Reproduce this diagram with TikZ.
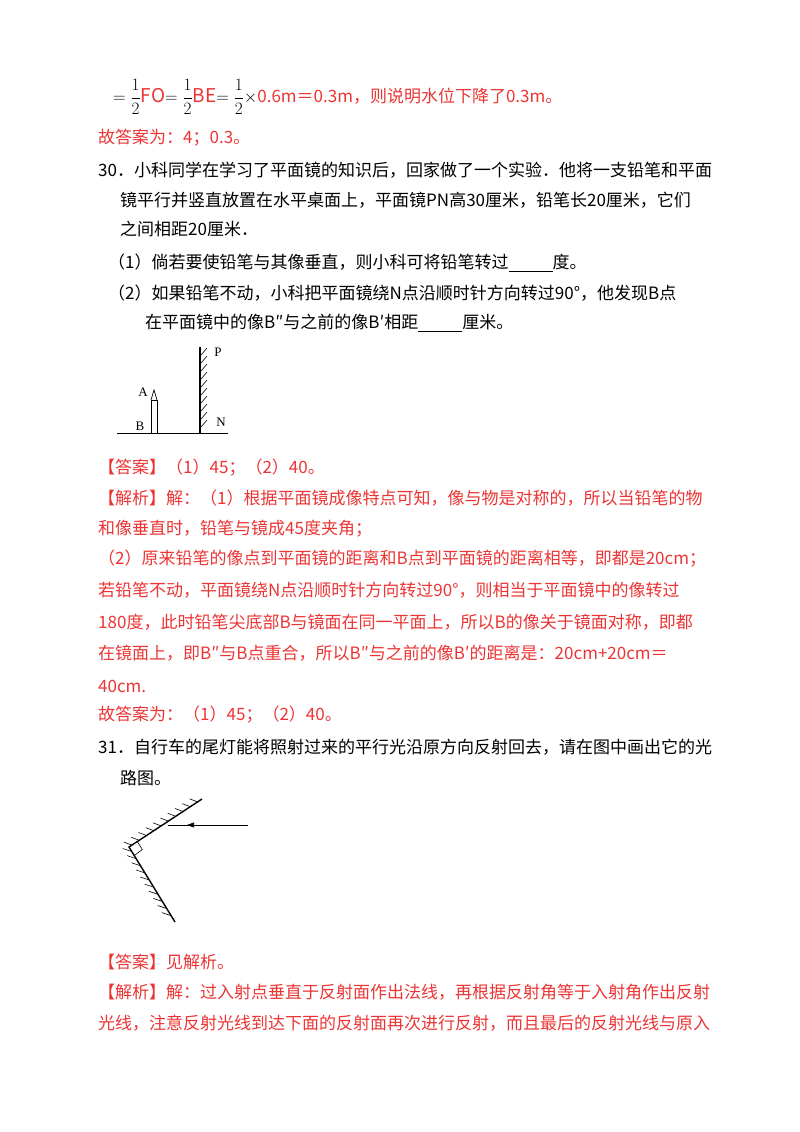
\documentclass[tikz,border=0pt]{standalone}
\usepackage{fontspec}
\setmainfont{Noto Sans CJK SC}
\newfontfamily\lblfont{Liberation Serif}
\usepackage{amsmath}
\usepackage{tikz}
\usetikzlibrary{arrows.meta, positioning, calc}
\definecolor{ansred}{RGB}{236,52,52}
\newcommand{\blank}{\underline{\makebox[44pt]{}}}
\newcommand{\hf}{\ensuremath{\dfrac{1}{2}}}

\begin{document}
\begin{tikzpicture}[
        x=1pt, y=-1pt,
        line/.style={anchor=west, inner sep=0pt, font=\fontsize{17}{20}\selectfont},
        ans/.style={line, text=ansred},
        lbl/.style={inner sep=0pt, font=\lblfont\fontsize{13}{14}\selectfont},
        mirror/.style={line width=1.4pt},
        hatch/.style={line width=0.6pt}
    ]
    \useasboundingbox (0,0) rectangle (800,1132);

    % --- Question 29 tail ---
    \node[line] (f1) at (113,97) {\fontsize{19}{22}\selectfont$=\hf$\textcolor{ansred}{FO}$=\hf$\textcolor{ansred}{BE}$=\hf\times$\textcolor{ansred}{\fontsize{17}{20}\selectfont 0.6m＝0.3m，则说明水位下降了0.3m。}};
    \node[ans] (a29) at (98,138) {故答案为：4；0.3。};

    % --- Question 30 ---
    \node[line] (q30a) at (98,170) {30．小科同学在学习了平面镜的知识后，回家做了一个实验．他将一支铅笔和平面};
    \node[line] (q30b) at (120,200) {镜平行并竖直放置在水平桌面上，平面镜PN高30厘米，铅笔长20厘米，它们};
    \node[line] (q30c) at (120,229) {之间相距20厘米．};
    \node[line] (q30d) at (108,263) {（1）倘若要使铅笔与其像垂直，则小科可将铅笔转过\blank 度。};
    \node[line] (q30e) at (108,293) {（2）如果铅笔不动，小科把平面镜绕N点沿顺时针方向转过90°，他发现B点};
    \node[line] (q30f) at (145,323) {在平面镜中的像B″与之前的像B′相距\blank 厘米。};

    % figure 1
    \coordinate (gl) at (117,433);
    \coordinate (gr) at (228,433);
    \coordinate (N) at (200,433);
    \coordinate (P) at (200,347);
    \draw[line width=1pt] (gl) -- (gr);
    \draw[mirror] (N) -- (P);
    \foreach \y in {355,363,...,431} \draw[hatch] (201,\y) -- ++(6,-7);
    \draw[line width=0.7pt] (151,433) -- (151,400) -- (157,400) -- (157,433);
    \draw[line width=0.7pt] (151,400) -- (154,390) -- (157,400);
    \node[lbl] (lP) at (218,352) {P};
    \node[lbl] (lN) at (221,422) {N};
    \node[lbl] (lA) at (143,392) {A};
    \node[lbl] (lB) at (140,426) {B};

    % --- Answer 30 ---
    \node[ans] (a30) at (98,468) {【答案】（1）45；（2）40。};
    \node[ans] (s1) at (98,498) {【解析】解：（1）根据平面镜成像特点可知，像与物是对称的，所以当铅笔的物};
    \node[ans] (s2) at (98,529) {和像垂直时，铅笔与镜成45度夹角；};
    \node[ans] (s3) at (98,559) {（2）原来铅笔的像点到平面镜的距离和B点到平面镜的距离相等，即都是20cm；};
    \node[ans] (s4) at (98,590) {若铅笔不动，平面镜绕N点沿顺时针方向转过90°，则相当于平面镜中的像转过};
    \node[ans] (s5) at (98,622) {180度，此时铅笔尖底部B与镜面在同一平面上，所以B的像关于镜面对称，即都};
    \node[ans] (s6) at (98,653) {在镜面上，即B″与B点重合，所以B″与之前的像B′的距离是：20cm+20cm＝};
    \node[ans] (s7) at (98,686) {40cm.};
    \node[ans] (g30) at (98,715) {故答案为：（1）45；（2）40。};

    % --- Question 31 ---
    \node[line] (q31a) at (98,747) {31．自行车的尾灯能将照射过来的平行光沿原方向反射回去，请在图中画出它的光};
    \node[line] (q31b) at (120,778) {路图。};

    % figure 2
    \coordinate (top) at (202,799);
    \coordinate (vtx) at (129,847);
    \coordinate (bot) at (175,922);
    \coordinate (ray) at (248,825);
    \coordinate (hit) at (168,825);
    \draw[mirror] (top) -- (vtx) -- (bot);
    \foreach \t in {0.04,0.14,...,1.0} \draw[hatch] ($(vtx)!\t!(top)$) -- ++(-8,-3);
    \foreach \t in {0.06,0.155,...,1.0} \draw[hatch] ($(vtx)!\t!(bot)$) -- ++(-9,-3);
    \draw[line width=0.6pt] (ray) -- (hit);
    \draw[-{Triangle[length=7pt,width=5pt]}, line width=0.6pt] (ray) -- (187,825);
    \draw[line width=0.6pt] ($(vtx)!10pt!(top)$) -- ++(5,8) -- ($(vtx)!10pt!(bot)$);

    % --- Answer 31 ---
    \node[ans] (a31) at (98,962) {【答案】见解析。};
    \node[ans] (t1) at (98,992) {【解析】解：过入射点垂直于反射面作出法线，再根据反射角等于入射角作出反射};
    \node[ans] (t2) at (98,1023) {光线，注意反射光线到达下面的反射面再次进行反射，而且最后的反射光线与原入};
\end{tikzpicture}
\end{document}
